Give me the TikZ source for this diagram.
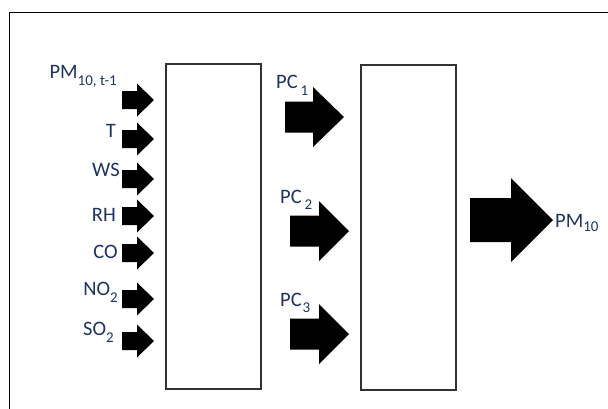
\documentclass[tikz,border=0pt]{standalone}
\usepackage{fontspec}
\setmainfont{Carlito}
\definecolor{lbl}{RGB}{31,50,96}
\definecolor{boxc}{RGB}{50,50,50}
\newcommand{\lowsub}[2]{\raisebox{-#1}{\fontsize{15}{15}\selectfont #2}}
% filled block arrow: x-left, y-centre, shaft length, head length, shaft half-height, head half-height
\newcommand{\blkarrow}[6]{%
  \fill[black] (#1,#2-#5) -- (#1+#3,#2-#5) -- (#1+#3,#2-#6) -- (#1+#3+#4,#2)
    -- (#1+#3,#2+#6) -- (#1+#3,#2+#5) -- (#1,#2+#5) -- cycle;}
\begin{document}
\begin{tikzpicture}[x=1pt,y=-1pt,
  lab/.style={text=lbl,font=\fontsize{20.5}{20.5}\selectfont,inner sep=0pt,anchor=base east},
  labw/.style={lab,anchor=base west},
  blk/.style={draw=boxc,line width=1.1pt,fill=white,inner sep=0pt}]
\useasboundingbox (0,0) rectangle (608,408);
\begin{scope}
\clip (0,0) rectangle (608,408);
\draw[line width=1pt,black] (9,12) rectangle (640,440);
\end{scope}
% boxes
\node[blk,minimum width=95pt,minimum height=325pt] (box1) at (213.5,226.5) {};
\node[blk,minimum width=95pt,minimum height=325pt] (box2) at (408.5,227.5) {};
% input labels
\node[lab] (pm) at (117,78) {PM\lowsub{7pt}{10, t-1}};
\node[lab] (t) at (116,137) {T};
\node[lab] (ws) at (120,176) {WS};
\node[lab] (rh) at (116,221) {RH};
\node[lab] (co) at (118,258) {CO};
\node[lab] (no) at (118,295) {NO\lowsub{7pt}{2}};
\node[lab] (so) at (114,335) {SO\lowsub{7pt}{2}};
% input arrows
\blkarrow{122}{100}{15}{17}{9}{16.5}
\blkarrow{122}{139}{15}{17}{9}{16.5}
\blkarrow{122}{179}{15}{17}{9}{16.5}
\blkarrow{122}{216}{15}{17}{9}{16.5}
\blkarrow{122}{253}{15}{17}{9}{16.5}
\blkarrow{122}{299}{15}{17}{9}{16.5}
\blkarrow{122}{341}{15}{17}{9}{16.5}
% PC labels
\node[labw] (pc1) at (276,88) {PC\hspace{3pt}\lowsub{7pt}{1}};
\node[labw] (pc2) at (280,203) {PC\hspace{3pt}\lowsub{6pt}{2}};
\node[labw] (pc3) at (280,306) {PC\hspace{1pt}\lowsub{6pt}{3}};
% PC arrows
\blkarrow{285}{117}{28}{31}{15.5}{30}
\blkarrow{290}{231}{29}{30}{15.5}{30}
\blkarrow{290}{334}{29}{30}{15.5}{30}
% output
\blkarrow{470}{220}{41}{42}{22}{42}
\node[labw] (out) at (555,227) {PM\lowsub{4pt}{10}};
\end{tikzpicture}
\end{document}
